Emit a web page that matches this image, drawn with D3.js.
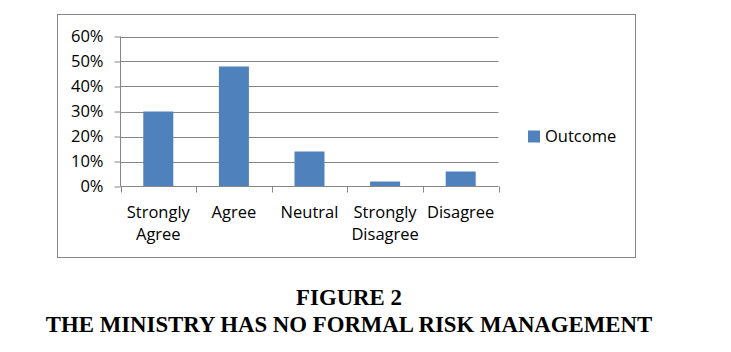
<!DOCTYPE html>
<html><head><meta charset="utf-8">
<script src="https://cdn.jsdelivr.net/npm/d3@7"></script>
<style>body{margin:0;background:#fff}svg{display:block}</style>
</head><body><svg id="c" width="731" height="352"></svg>
<script>
const categories = [["Strongly","Agree"],["Agree"],["Neutral"],["Strongly","Disagree"],["Disagree"]];
const values = [0.30, 0.48, 0.14, 0.02, 0.06];
const yTicks = [0, 0.1, 0.2, 0.3, 0.4, 0.5, 0.6];
const seriesName = "Outcome";
const titleLines = ["FIGURE 2", "THE MINISTRY HAS NO FORMAL RISK MANAGEMENT"];

(function(){
const svg = d3.select("#c");
const font = "'Open Sans', sans-serif";
const fs = 16.5;
const pL = 120.5, pR = 498.5, pT = 36.5, pB = 186.5;

svg.append("rect").attr("x",57.5).attr("y",14.5).attr("width",578).attr("height",243)
  .attr("fill","#fff").attr("stroke","#868686").attr("stroke-width",1);

const xb = d3.scaleBand().domain(d3.range(values.length)).range([pL, pR]);
const y = d3.scaleLinear().domain([0, 0.6]).range([pB, pT]);

// gridlines
svg.append("g").selectAll("line").data(yTicks.slice(1)).join("line")
  .attr("x1",pL).attr("x2",pR).attr("y1",d=>Math.round(y(d))+0.5).attr("y2",d=>Math.round(y(d))+0.5)
  .attr("stroke","#868686");

// bars
svg.append("g").selectAll("rect").data(values).join("rect")
  .attr("x",(d,i)=>xb(i)+xb.bandwidth()/2-15).attr("width",30)
  .attr("y",d=>y(d)).attr("height",d=>pB-y(d))
  .attr("fill","#4f81bd");

// y axis
const ya = svg.append("g").attr("transform",`translate(${pL},0)`)
  .call(d3.axisLeft(y).tickValues(yTicks).tickFormat(d3.format(".0%")).tickSize(6).tickPadding(11));
ya.select(".domain").attr("stroke","#868686").attr("d",`M0,${pT}V${pB}`);
ya.selectAll(".tick line").attr("stroke","#868686");
ya.selectAll(".tick text").attr("font-family",font).attr("font-size",fs).attr("fill","#000");

// x axis
svg.append("line").attr("x1",pL).attr("x2",pR).attr("y1",pB).attr("y2",pB).attr("stroke","#868686");
svg.append("g").selectAll("line").data(d3.range(values.length+1)).join("line")
  .attr("x1",i=>Math.round(i<values.length?xb(i):pR)+0.5).attr("x2",i=>Math.round(i<values.length?xb(i):pR)+0.5)
  .attr("y1",pB).attr("y2",pB+6).attr("stroke","#868686");

const lab = svg.append("g").selectAll("text").data(categories).join("text")
  .attr("x",(d,i)=>xb(i)+xb.bandwidth()/2).attr("y",217.5)
  .attr("text-anchor","middle").attr("font-family",font).attr("font-size",fs).attr("fill","#000");
lab.selectAll("tspan").data(d=>d).join("tspan")
  .attr("x",function(){return this.parentNode.getAttribute("x");})
  .attr("dy",(d,i)=>i===0?0:22.7).text(d=>d);

// legend
svg.append("rect").attr("x",528).attr("y",130.5).attr("width",12).attr("height",12).attr("fill","#4f81bd");
svg.append("text").attr("x",545).attr("y",142).attr("font-family",font).attr("font-size",fs).attr("fill","#000").text(seriesName);

// title
svg.append("g").selectAll("text").data(titleLines).join("text")
  .attr("x",349).attr("y",(d,i)=>305+i*26.5).attr("text-anchor","middle")
  .attr("font-family","'Liberation Serif', 'Times New Roman', serif").attr("font-weight","bold")
  .attr("font-size",22.8).attr("fill","#000").text(d=>d);
})();
</script></body></html>
